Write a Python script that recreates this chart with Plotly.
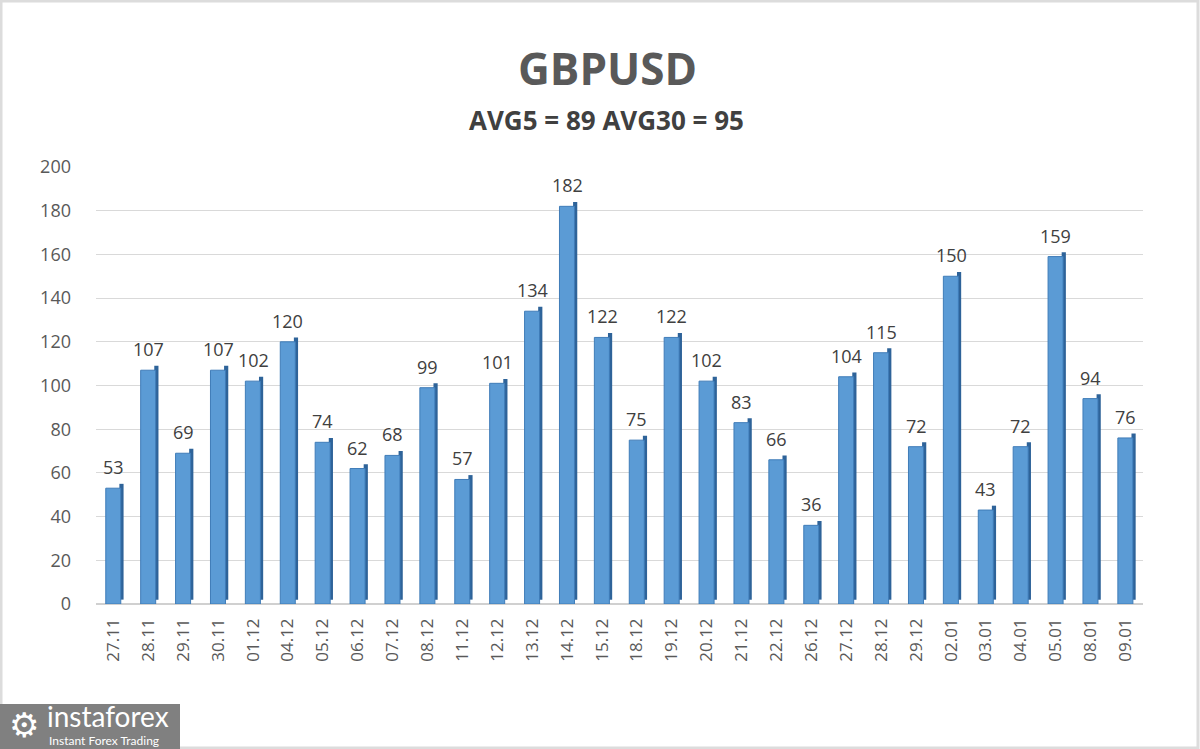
import plotly.graph_objects as go

categories = ["27.11", "28.11", "29.11", "30.11", "01.12", "04.12", "05.12", "06.12", "07.12", "08.12",
              "11.12", "12.12", "13.12", "14.12", "15.12", "18.12", "19.12", "20.12", "21.12", "22.12",
              "26.12", "27.12", "28.12", "29.12", "02.01", "03.01", "04.01", "05.01", "08.01", "09.01"]
values = [53, 107, 69, 107, 102, 120, 74, 62, 68, 99,
          57, 101, 134, 182, 122, 75, 122, 102, 83, 66,
          36, 104, 115, 72, 150, 43, 72, 159, 94, 76]
title_text = "GBPUSD"
subtitle_text = "AVG5 = 89 AVG30 = 95"
y_ticks = [0, 20, 40, 60, 80, 100, 120, 140, 160, 180, 200]

FONT = "Open Sans"
W, H = 1200, 749
ML, MR, MT, MB = 96, 57, 167, 145
PW, PH = W - ML - MR, H - MT - MB


def px(x):
    return (x - ML) / PW


def py(y):
    return (H - MB - y) / PH


fig = go.Figure()

# side face (depth) of the 3D bars
fig.add_trace(go.Bar(
    x=categories, y=values, base=[2] * len(values),
    offset=0.17, width=0.12,
    marker=dict(color="#2E6399", line=dict(width=0)),
    hoverinfo="skip", showlegend=False,
))
# front face
fig.add_trace(go.Bar(
    x=categories, y=values,
    offset=-0.22, width=0.43,
    marker=dict(color="#5B9BD5", line=dict(color="#3F7CB8", width=1)),
    showlegend=False,
))

annotations = [
    dict(x=i, y=v, text=str(v), xref="x", yref="y", showarrow=False,
         xanchor="center", yanchor="bottom", yshift=7,
         font=dict(family=FONT, size=18, color="#404040"))
    for i, v in enumerate(values)
]
annotations += [
    dict(text="<b>" + title_text + "</b>", x=px(607), y=py(68), xref="paper", yref="paper",
         xanchor="center", yanchor="middle", showarrow=False,
         font=dict(family=FONT, size=44, color="#595959")),
    dict(text="<b>" + subtitle_text + "</b>", x=px(606), y=py(120), xref="paper", yref="paper",
         xanchor="center", yanchor="middle", showarrow=False,
         font=dict(family=FONT, size=26, color="#404040")),
    dict(text="⚙", x=px(24), y=py(725), xref="paper", yref="paper",
         xanchor="center", yanchor="middle", showarrow=False,
         font=dict(family="DejaVu Sans", size=34, color="white")),
    dict(text="instaforex", x=px(45), y=py(716), xref="paper", yref="paper",
         xanchor="left", yanchor="middle", showarrow=False,
         font=dict(family="Lato", size=28, color="white")),
    dict(text="Instant Forex Trading", x=px(47), y=py(740), xref="paper", yref="paper",
         xanchor="left", yanchor="middle", showarrow=False,
         font=dict(family="Lato", size=12, color="white")),
]

fig.update_layout(
    width=W, height=H,
    margin=dict(l=ML, r=MR, t=MT, b=MB),
    paper_bgcolor="white", plot_bgcolor="white",
    barmode="overlay",
    font=dict(family=FONT, color="#595959"),
    xaxis=dict(
        type="category", tickangle=-90, showgrid=False,
        tickfont=dict(family=FONT, size=17, color="#595959"),
        ticks="", showline=False, zeroline=False,
        ticklabelstandoff=10,
    ),
    yaxis=dict(
        range=[0, 200], tickvals=y_ticks, showgrid=True, gridcolor="#D9D9D9", gridwidth=1,
        tickfont=dict(family=FONT, size=18, color="#595959"),
        ticks="", showline=False, zeroline=True, zerolinecolor="#D0D0D0",
        ticklabelstandoff=24,
    ),
    annotations=annotations,
    shapes=[
        dict(type="rect", xref="paper", yref="paper", x0=px(1), x1=px(W - 2), y0=py(H - 1), y1=py(1),
             line=dict(color="#DCDCDC", width=3), layer="below"),
        dict(type="rect", xref="paper", yref="paper", x0=px(0), x1=px(180), y0=py(H), y1=py(704),
             line=dict(width=0), fillcolor="#808080", layer="above"),
    ],
)

fig.write_html("out.html", config={"displayModeBar": False},
               post_script=["document.body.style.margin='0';document.body.style.padding='0';"])
